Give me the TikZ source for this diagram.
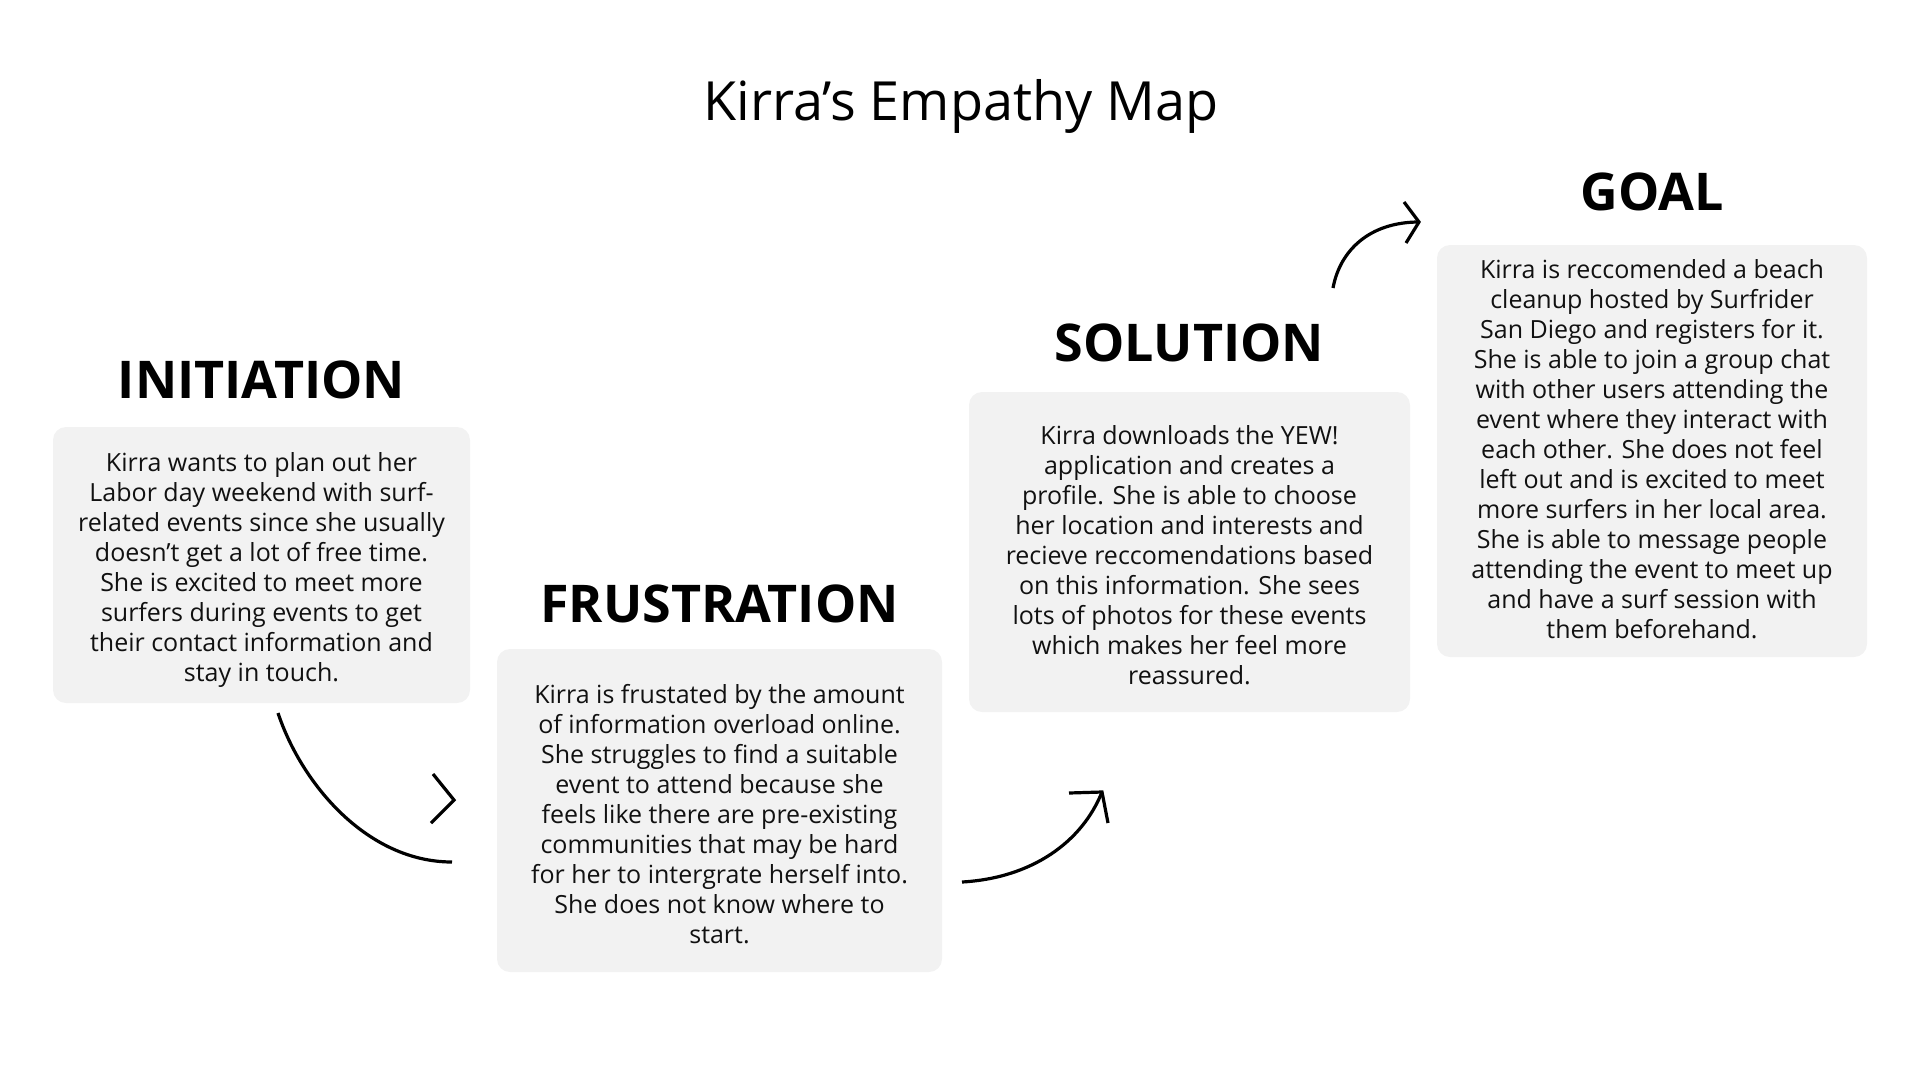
\documentclass[tikz,border=0pt]{standalone}
\usepackage{fontspec}
\setmainfont{Open Sans}
\usetikzlibrary{positioning}
\definecolor{cardgray}{RGB}{242,242,242}
\definecolor{inkblack}{RGB}{17,17,17}

\tikzset{
  card/.style={fill=cardgray, rounded corners=13pt, inner sep=0pt},
  cardtext/.style={align=center, inner sep=0pt, text=inkblack,
    font=\fontsize{25}{30}\selectfont},
  stage/.style={font=\bfseries\fontsize{52}{60}\selectfont, inner sep=0pt},
  stroke/.style={line width=3.2pt, black}
}

\begin{document}
\begin{tikzpicture}[x=1pt, y=-1pt]
    \useasboundingbox (0,0) rectangle (1920,1080);

    % Title
    \node[font=\fontsize{54}{60}\selectfont, anchor=base, inner sep=0pt] (title) at (961,120) {Kirra’s Empathy Map};

    % Cards
    \node[card, minimum width=417pt, minimum height=276pt] (init) at (261.5,565) {};
    \node[card, minimum width=445pt, minimum height=323pt] (frust) at (719.5,810.5) {};
    \node[card, minimum width=441pt, minimum height=320pt] (sol) at (1189.5,552) {};
    \node[card, minimum width=430pt, minimum height=412pt] (goal) at (1652,451) {};

    \node[cardtext] (initTxt) at ([yshift=-5pt]init.center) {Kirra wants to plan out her\\
        Labor day weekend with surf-\\
        related events since she usually\\
        doesn’t get a lot of free time.\\
        She is excited to meet more\\
        surfers during events to get\\
        their contact information and\\
        stay in touch.};
    \node[cardtext] (frustTxt) at ([yshift=-4pt]frust.center) {Kirra is frustated by the amount\\
        of information overload online.\\
        She struggles to find a suitable\\
        event to attend because she\\
        feels like there are pre-existing\\
        communities that may be hard\\
        for her to intergrate herself into.\\
        She does not know where to\\
        start.};
    \node[cardtext] (solTxt) at ([yshift=-3pt]sol.center) {Kirra downloads the YEW!\\
        application and creates a\\
        profile. She is able to choose\\
        her location and interests and\\
        recieve reccomendations based\\
        on this information. She sees\\
        lots of photos for these events\\
        which makes her feel more\\
        reassured.};
    \node[cardtext] (goalTxt) at ([yshift=2pt]goal.center) {Kirra is reccomended a beach\\
        cleanup hosted by Surfrider\\
        San Diego and registers for it.\\
        She is able to join a group chat\\
        with other users attending the\\
        event where they interact with\\
        each other. She does not feel\\
        left out and is excited to meet\\
        more surfers in her local area.\\
        She is able to message people\\
        attending the event to meet up\\
        and have a surf session with\\
        them beforehand.};

    % Stage headings
    \node[stage, above=28pt of init, anchor=base] (initT) {INITIATION};
    \node[stage, above=26pt of frust, anchor=base] (frustT) {FRUSTRATION};
    \node[stage, above=30pt of sol, anchor=base] (solT) {SOLUTION};
    \node[stage, above=34pt of goal, anchor=base] (goalT) {GOAL};

    % Arrows
    \coordinate (a1s) at (278,713);
    \coordinate (a1e) at (452,862);
    \draw[stroke] (a1s) .. controls (302,785) and (368,862) .. (a1e);
    \draw[stroke] (433,774) -- (454,800) -- (431,823);

    \coordinate (a2s) at (962,882);
    \coordinate (a2e) at (1102,792);
    \draw[stroke] (a2s) .. controls (1032,878) and (1082,842) .. (a2e);
    \draw[stroke] (1069,793) -- (a2e) -- (1108,823);

    \coordinate (a3s) at (1333,288);
    \coordinate (a3e) at (1419,222);
    \draw[stroke] (a3s) .. controls (1340,250) and (1370,222) .. (a3e);
    \draw[stroke] (1404,202) -- (a3e) -- (1406,243);
\end{tikzpicture}
\end{document}
